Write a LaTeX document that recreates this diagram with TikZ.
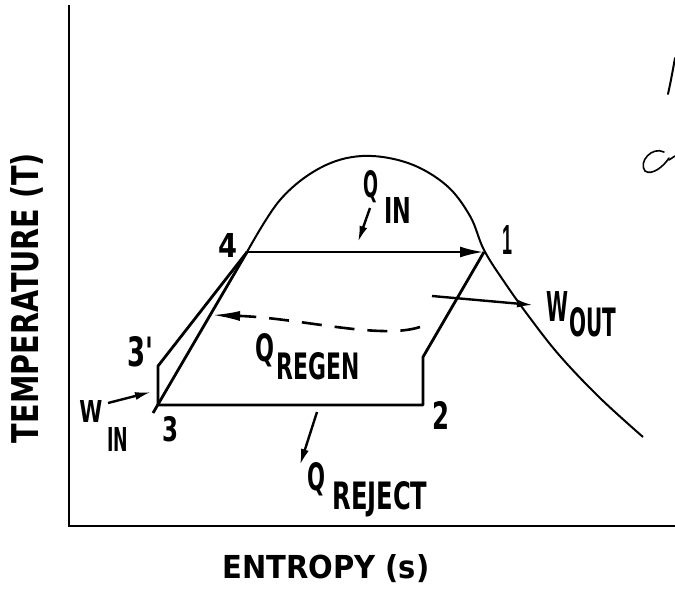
\documentclass[tikz,border=0pt]{standalone}
\usepackage{fontspec}
\usetikzlibrary{arrows.meta}
\newfontfamily\lblfont{DejaVu Sans}
\newfontfamily\onefont{Liberation Sans}
\newcommand{\lbx}[3]{\resizebox{#1pt}{#2pt}{\lblfont\bfseries #3}}
\newcommand{\lbxone}[3]{\resizebox{#1pt}{#2pt}{\onefont\bfseries #3}}
\begin{document}
\begin{tikzpicture}[x=1pt,y=-1pt,
  cyc/.style={line width=2.8pt,line join=round},
  axisline/.style={line width=2.5pt},
  dome/.style={line width=2pt},
  arr/.style={line width=2.4pt,-{Latex[length=16pt,width=8pt]}},
  lbl/.style={inner sep=0pt,outer sep=0pt}]
\useasboundingbox (0,0) rectangle (675,589);
% axes
\coordinate (ytop) at (69,5);
\coordinate (org) at (69,526);
\coordinate (xend) at (675,526);
\draw[axisline] (ytop) -- (org) -- (xend);
% cycle points
\coordinate (p1) at (484,252);
\coordinate (p4) at (247,252);
\coordinate (p3) at (158,405);
\coordinate (p3p) at (158,366);
\coordinate (p3x) at (153,413);
\coordinate (p2) at (423,405);
\coordinate (p2c) at (423,357);
% dome
\draw[dome] plot[smooth,tension=0.6] coordinates {(247,252) (280,200) (320,168) (362,156) (408,163) (446,185) (470,216) (484,250) (505,283) (530,318) (560,356) (600,398) (643,437)};
% cycle
\draw[cyc] (p3) -- (p3p) -- (p4);
\draw[cyc] (p4) -- (p3x);
\draw[cyc] (p3) -- (p2) -- (p2c) -- (p1);
\draw[cyc,-{Latex[length=24pt,width=11pt]}] (p4) -- (p1);
% arrows
\coordinate (qinA) at (370,208); \coordinate (qinB) at (358,242);
\draw[arr] (qinA) -- (qinB);
\coordinate (winA) at (108,403); \coordinate (winB) at (151,392);
\draw[arr] (winA) -- (winB);
\coordinate (woutA) at (432,296); \coordinate (woutB) at (533,305);
\draw[arr] (woutA) -- (woutB);
\coordinate (qrA) at (317,412); \coordinate (qrB) at (300,465);
\draw[arr] (qrA) -- (qrB);
\coordinate (rgA) at (420,327); \coordinate (rgB) at (212,315);
\draw[line width=2.6pt,dash pattern=on 20pt off 13pt,-{Latex[length=28pt,width=10pt]}]
  (rgA) .. controls (380,340) and (300,318) .. (rgB);
% labels
\node[lbl,rotate=90] (tlab) at (27,298) {\lbx{290}{28}{TEMPERATURE (T)}};
\node[lbl] (slab) at (326,569) {\lbx{207}{24}{ENTROPY (s)}};
\node[lbl] (l1) at (507,240) {\lbxone{10}{29}{1}};
\node[lbl] (l4) at (228,245) {\lbx{19}{24}{4}};
\node[lbl] (l3p) at (140,352) {\lbx{26}{30}{3'}};
\node[lbl] (l3) at (170,429) {\lbx{16}{25}{3}};
\node[lbl] (l2) at (441,415) {\lbx{17}{28}{2}};
\node[lbl] (wi) at (91,411) {\lbx{23}{22}{W}};
\node[lbl] (wis) at (118,439) {\lbx{21}{24}{IN}};
\node[lbl] (qi) at (371,187) {\lbx{15}{27}{Q}};
\node[lbl] (qis) at (398,210) {\lbx{27}{26}{IN}};
\node[lbl] (wo) at (557,306) {\lbx{22}{30}{W}};
\node[lbl] (wos) at (593,322) {\lbx{47}{29}{OUT}};
\node[lbl] (qg) at (265,350) {\lbx{19}{28}{Q}};
\node[lbl] (qgs) at (318,366) {\lbx{83}{27}{REGEN}};
\node[lbl] (qr) at (316,479) {\lbx{18}{28}{Q}};
\node[lbl] (qrs) at (380,499) {\lbx{95}{28}{REJECT}};
% handwriting fragments
\draw[line width=2pt,line cap=round] (675,58) .. controls (672,75) and (670,85) .. (668,94);
\draw[line width=1.6pt,line cap=round] (664,152) .. controls (652,146) and (638,162) .. (645,171) .. controls (652,176) and (664,166) .. (669,158);
\draw[line width=1.6pt,line cap=round] (669,160) -- (675,156);
\end{tikzpicture}
\end{document}
